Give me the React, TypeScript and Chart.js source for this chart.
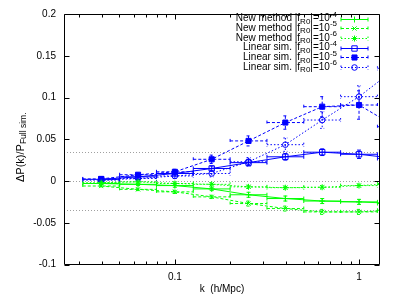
import React, { useEffect, useRef } from 'react';
import { Chart, registerables } from 'chart.js';
import { drawPoint } from 'chart.js/helpers';
Chart.register(...registerables);

// ---- data ----
const kValues = [0.0398, 0.0631, 0.1, 0.1585, 0.2512, 0.3981, 0.631, 1.0, 1.585];
const newMethod4 = [-0.003, -0.004, -0.0055, -0.0095, -0.0165, -0.021, -0.024, -0.025, -0.027];
const newMethod4Err = [0.001, 0.0015, 0.002, 0.002, 0.003, 0.003, 0.003, 0.003, 0.003];
const newMethod5 = [-0.006, -0.01, -0.013, -0.019, -0.027, -0.033, -0.037, -0.037, -0.035];
const newMethod5Err = [0.001, 0.0015, 0.002, 0.002, 0.003, 0.003, 0.003, 0.003, 0.003];
const newMethod6 = [-0.002, -0.001, -0.003, -0.004, -0.007, -0.008, -0.0075, -0.0055, -0.003];
const newMethod6Err = [0.001, 0.0015, 0.002, 0.002, 0.002, 0.002, 0.002, 0.002, 0.002];
const linear4 = [0.002, 0.005, 0.009, 0.015, 0.022, 0.029, 0.0345, 0.032, 0.027];
const linear4Err = [0.001, 0.0015, 0.002, 0.003, 0.004, 0.004, 0.004, 0.005, 0.005];
const linear5 = [0.0025, 0.0075, 0.011, 0.026, 0.048, 0.07, 0.089, 0.091, 0.065];
const linear5Err = [0.001, 0.002, 0.003, 0.005, 0.006, 0.008, 0.012, 0.017, 0.02];
const linear6 = [0.001, 0.003, 0.006, 0.009, 0.023, 0.0435, 0.073, 0.101, 0.135];
const linear6Err = [0.001, 0.002, 0.003, 0.004, 0.005, 0.008, 0.01, 0.013, 0.02];

const binFactor = Math.pow(10, 0.1);
const refLines = [0.035, 0, -0.035];

const seriesPrefixes = ['New method', 'New method', 'New method', 'Linear sim.', 'Linear sim.', 'Linear sim.'];
const seriesExponents = ['-4', '-5', '-6', '-4', '-5', '-6'];
const seriesValues = [newMethod4, newMethod5, newMethod6, linear4, linear5, linear6];
const seriesErrors = [newMethod4Err, newMethod5Err, newMethod6Err, linear4Err, linear5Err, linear6Err];

const xTickValues = [0.03, 0.04, 0.05, 0.06, 0.07, 0.08, 0.09, 0.1, 0.2, 0.3, 0.4, 0.5, 0.6, 0.7, 0.8, 0.9, 1];
const xMajorTicks = [0.1, 1];
const yTickValues = [-0.1, -0.05, 0, 0.05, 0.1, 0.15, 0.2];

// ---- styles ----
const GREEN = '#00ff00';
const BLUE = '#0000ff';
const seriesColors = [GREEN, GREEN, GREEN, BLUE, BLUE, BLUE];
const seriesDash = [[], [3, 2], [1.5, 2], [], [3, 2], [1.5, 2]];
const seriesPointStyle = ['cross', 'crossRot', 'star', 'rect', 'rect', 'circle'];
const seriesPointRadius = [3, 3, 3, 3.8, 3.6, 2.8];
const seriesFilled = [false, false, false, false, true, false];
const FONT = 'Liberation Sans, Arial, Helvetica, sans-serif';

function drawSeg(ctx: CanvasRenderingContext2D, x1: number, y1: number, x2: number, y2: number) {
  ctx.moveTo(x1, y1);
  ctx.lineTo(x2, y2);
}

const gnuplotPlugin = {
  id: 'gnuplotDecor',
  beforeDatasetsDraw(chart: any) {
    const { ctx, chartArea: a, scales } = chart;
    const x = scales.x, y = scales.y;
    ctx.save();
    ctx.strokeStyle = '#a0a0a0';
    ctx.lineWidth = 1;
    ctx.setLineDash([1, 2]);
    refLines.forEach((v) => {
      const py = Math.round(y.getPixelForValue(v)) + 0.5;
      ctx.beginPath();
      drawSeg(ctx, a.left, py, a.right, py);
      ctx.stroke();
    });
    ctx.beginPath();
    ctx.rect(a.left, a.top, a.right - a.left, a.bottom - a.top);
    ctx.clip();
    chart.data.datasets.forEach((ds: any, i: number) => {
      ctx.strokeStyle = seriesColors[i];
      ctx.lineWidth = 1;
      ctx.setLineDash(seriesDash[i]);
      ds.data.forEach((p: any) => {
        const px = x.getPixelForValue(p.x);
        const py = y.getPixelForValue(p.y);
        const xl = x.getPixelForValue(p.x / binFactor);
        const xr = x.getPixelForValue(p.x * binFactor);
        const yt = y.getPixelForValue(p.y + p.e);
        const yb = y.getPixelForValue(p.y - p.e);
        ctx.beginPath();
        drawSeg(ctx, xl, py, xr, py);
        drawSeg(ctx, xl, py - 2, xl, py + 2);
        drawSeg(ctx, xr, py - 2, xr, py + 2);
        drawSeg(ctx, px, yt, px, yb);
        drawSeg(ctx, px - 2, yt, px + 2, yt);
        drawSeg(ctx, px - 2, yb, px + 2, yb);
        ctx.stroke();
      });
    });
    ctx.restore();
  },
  afterDraw(chart: any) {
    const { ctx, chartArea: a, scales } = chart;
    const x = scales.x, y = scales.y;
    ctx.save();
    ctx.setLineDash([]);
    ctx.strokeStyle = '#000';
    ctx.lineWidth = 1;
    const L = Math.round(a.left) + 0.5, R = Math.round(a.right) - 0.5;
    const T = Math.round(a.top) + 0.5, B = Math.round(a.bottom) - 0.5;
    ctx.beginPath();
    ctx.rect(L, T, R - L, B - T);
    ctx.stroke();
    ctx.beginPath();
    yTickValues.forEach((v) => {
      const py = Math.round(y.getPixelForValue(v)) + 0.5;
      drawSeg(ctx, L, py, L + 5, py);
      drawSeg(ctx, R, py, R - 5, py);
    });
    xTickValues.forEach((v) => {
      const px = Math.round(x.getPixelForValue(v)) + 0.5;
      const len = xMajorTicks.includes(v) ? 5 : 3;
      drawSeg(ctx, px, B, px, B - len);
      drawSeg(ctx, px, T, px, T + len);
    });
    ctx.stroke();

    // legend
    const rowY0 = 18.5, rowStep = 9.7;
    const textRight = 337;
    const lineL = 341, lineR = 368;
    ctx.textBaseline = 'middle';
    ctx.fillStyle = '#000';
    seriesPrefixes.forEach((pre, i) => {
      const yy = rowY0 + i * rowStep;
      const parts = [
        { t: pre + ' |f', size: 10, dy: 0 },
        { t: 'R0', size: 8, dy: 3 },
        { t: '|=10', size: 10, dy: 0 },
        { t: seriesExponents[i], size: 8, dy: -4 },
      ];
      let total = 0;
      parts.forEach((p) => {
        ctx.font = `${p.size}px ${FONT}`;
        total += ctx.measureText(p.t).width;
      });
      let cx = textRight - total;
      ctx.textAlign = 'left';
      parts.forEach((p) => {
        ctx.font = `${p.size}px ${FONT}`;
        ctx.fillText(p.t, cx, yy + p.dy);
        cx += ctx.measureText(p.t).width;
      });
      ctx.strokeStyle = seriesColors[i];
      ctx.setLineDash(seriesDash[i]);
      const ly = Math.round(yy) + 0.5;
      ctx.beginPath();
      drawSeg(ctx, lineL, ly, lineR, ly);
      drawSeg(ctx, lineL, ly - 2, lineL, ly + 2);
      drawSeg(ctx, lineR, ly - 2, lineR, ly + 2);
      ctx.stroke();
      ctx.setLineDash([]);
      ctx.fillStyle = seriesFilled[i] ? seriesColors[i] : 'rgba(0,0,0,0)';
      ctx.lineWidth = 1;
      drawPoint(ctx, { pointStyle: seriesPointStyle[i], radius: seriesPointRadius[i], rotation: 0, borderWidth: 1 } as any, (lineL + lineR) / 2, ly);
      ctx.fillStyle = '#000';
    });

    // y title
    ctx.save();
    ctx.translate(21, (a.top + a.bottom) / 2 + 8);
    ctx.rotate(-Math.PI / 2);
    const tparts = [
      { t: '\u0394P(k)/P', size: 11, dy: 0 },
      { t: 'Full sim.', size: 8.5, dy: 3 },
    ];
    let tw = 0;
    tparts.forEach((p) => {
      ctx.font = `${p.size}px ${FONT}`;
      tw += ctx.measureText(p.t).width;
    });
    let tx = -tw / 2;
    ctx.textAlign = 'left';
    ctx.textBaseline = 'middle';
    ctx.fillStyle = '#000';
    tparts.forEach((p) => {
      ctx.font = `${p.size}px ${FONT}`;
      ctx.fillText(p.t, tx, p.dy);
      tx += ctx.measureText(p.t).width;
    });
    ctx.restore();
    ctx.restore();
  },
};

export default function App() {
  const ref = useRef<HTMLCanvasElement | null>(null);
  useEffect(() => {
    if (!ref.current) return;
    const datasets = seriesValues.map((vals, i) => ({
      label: seriesPrefixes[i] + ' |fR0|=10^' + seriesExponents[i],
      data: kValues.map((k, j) => ({ x: k, y: vals[j], e: seriesErrors[i][j] })),
      borderColor: seriesColors[i],
      backgroundColor: seriesFilled[i] ? seriesColors[i] : 'rgba(0,0,0,0)',
      borderWidth: 1,
      borderDash: seriesDash[i],
      pointStyle: seriesPointStyle[i],
      pointRadius: seriesPointRadius[i],
      pointBorderWidth: 1,
      pointBorderColor: seriesColors[i],
      pointBackgroundColor: seriesFilled[i] ? seriesColors[i] : 'rgba(0,0,0,0)',
      fill: false,
      tension: 0,
    }));
    const chart = new Chart(ref.current, {
      type: 'line',
      data: { datasets },
      options: {
        animation: false,
        responsive: false,
        devicePixelRatio: 1,
        parsing: { xAxisKey: 'x', yAxisKey: 'y' },
        layout: { padding: { left: 0, right: 15, top: 6, bottom: 0 } },
        plugins: { legend: { display: false }, tooltip: { enabled: false } },
        scales: {
          x: {
            type: 'logarithmic',
            min: 0.025,
            max: 1.3,
            grid: { display: false, drawTicks: false },
            border: { display: false },
            afterBuildTicks: (s: any) => {
              s.ticks = xTickValues.map((v) => ({ value: v }));
            },
            afterFit: (s: any) => {
              s.height = 31.5;
            },
            ticks: {
              autoSkip: false,
              maxRotation: 0,
              padding: 7,
              color: '#000',
              font: { family: FONT, size: 10 },
              callback: (v: any) => (xMajorTicks.includes(Number(v)) ? String(v) : ''),
            },
            title: {
              display: true,
              text: 'k  (h/Mpc)',
              color: '#000',
              font: { family: FONT, size: 10 },
              padding: { top: 0, bottom: 1 },
            },
          },
          y: {
            type: 'linear',
            min: -0.1,
            max: 0.2,
            grid: { display: false, drawTicks: false },
            border: { display: false },
            afterBuildTicks: (s: any) => {
              s.ticks = yTickValues.map((v) => ({ value: v }));
            },
            afterFit: (s: any) => {
              s.width = 64;
            },
            ticks: {
              padding: 8,
              color: '#000',
              font: { family: FONT, size: 10 },
              callback: (v: any) => String(Math.round(Number(v) * 100) / 100),
            },
          },
        },
      },
      plugins: [gnuplotPlugin],
    });
    return () => chart.destroy();
  }, []);
  return (
    <div style={{ position: 'absolute', left: 0, top: 0, width: 395, height: 296, background: '#fff' }}>
      <canvas ref={ref} width={395} height={296} style={{ display: 'block' }} />
    </div>
  );
}
